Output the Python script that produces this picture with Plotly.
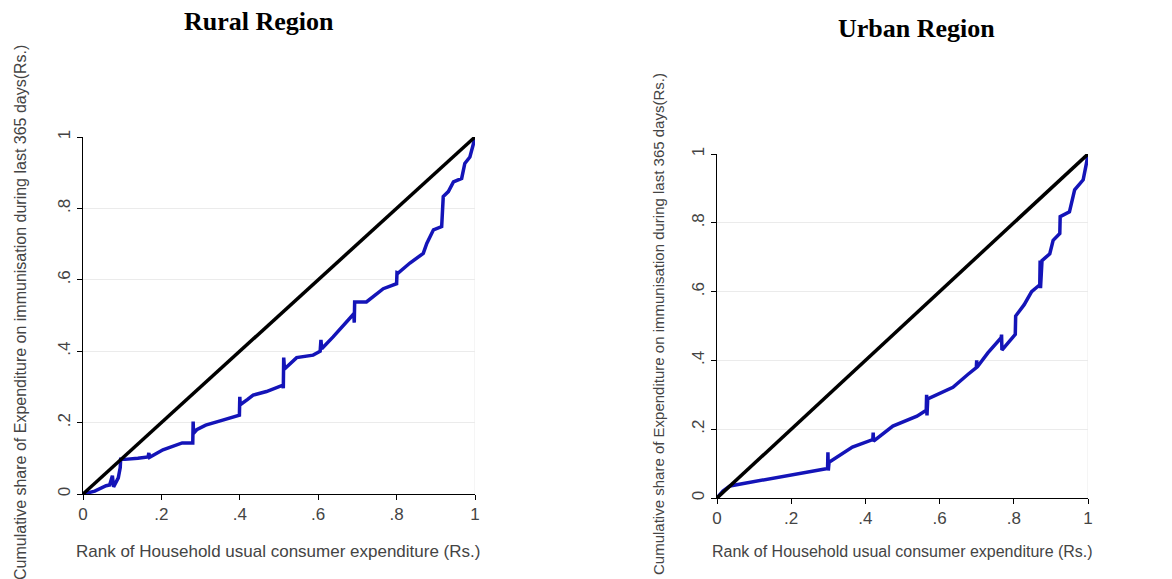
import plotly.graph_objects as go

# ---------------- data ----------------
equality_x = [0, 1]
equality_y = [0, 1]

rural_x = [0, 0.03, 0.059, 0.068, 0.075, 0.078, 0.090, 0.095, 0.096, 0.107, 0.14, 0.166, 0.168,
           0.170, 0.204, 0.218, 0.253, 0.280, 0.281, 0.282, 0.29, 0.313, 0.35, 0.383, 0.399, 0.400,
           0.401, 0.42, 0.434, 0.468, 0.510, 0.511, 0.512, 0.514, 0.545, 0.587, 0.605, 0.607, 0.609,
           0.638, 0.664, 0.691, 0.692, 0.693, 0.723, 0.766, 0.800, 0.801, 0.804, 0.834, 0.868, 0.877,
           0.894, 0.915, 0.919, 0.932, 0.945, 0.966, 0.974, 0.987, 0.996, 1]
rural_y = [0, 0.008, 0.023, 0.025, 0.051, 0.02, 0.045, 0.074, 0.097, 0.097, 0.10, 0.104, 0.115,
           0.103, 0.124, 0.129, 0.143, 0.143, 0.203, 0.17, 0.18, 0.193, 0.205, 0.217, 0.221, 0.272,
           0.25, 0.265, 0.277, 0.287, 0.305, 0.296, 0.382, 0.35, 0.382, 0.389, 0.40, 0.432, 0.407,
           0.44, 0.473, 0.505, 0.48, 0.538, 0.538, 0.575, 0.589, 0.62, 0.619, 0.647, 0.674, 0.702,
           0.74, 0.749, 0.833, 0.847, 0.874, 0.884, 0.926, 0.944, 0.981, 1]

urban_x = [0, 0.016, 0.035, 0.08, 0.114, 0.192, 0.26, 0.298, 0.299, 0.300, 0.302, 0.337, 0.365,
           0.420, 0.421, 0.422, 0.474, 0.539, 0.564, 0.565, 0.566, 0.568, 0.60, 0.636, 0.676, 0.699,
           0.700, 0.701, 0.730, 0.766, 0.767, 0.768, 0.804, 0.805, 0.828, 0.848, 0.870, 0.871, 0.872,
           0.876, 0.897, 0.906, 0.924, 0.925, 0.95, 0.964, 0.987, 0.996, 1]
urban_y = [0, 0.02, 0.035, 0.044, 0.049, 0.064, 0.078, 0.086, 0.133, 0.08, 0.104, 0.13, 0.148,
           0.17, 0.19, 0.165, 0.209, 0.238, 0.255, 0.30, 0.24, 0.288, 0.305, 0.322, 0.359, 0.379,
           0.40, 0.38, 0.422, 0.466, 0.475, 0.43, 0.476, 0.529, 0.562, 0.6, 0.62, 0.69, 0.61, 0.69,
           0.71, 0.749, 0.769, 0.818, 0.832, 0.896, 0.925, 0.974, 1]

tick_vals = [0, 0.2, 0.4, 0.6, 0.8, 1]
tick_text = ["0", ".2", ".4", ".6", ".8", "1"]

titles = ["Rural Region", "Urban Region"]
x_title = "Rank of Household usual consumer expenditure (Rs.)"
y_title = "Cumulative share of Expenditure on immunisation during last 365 days(Rs.)"

# ---------------- figure ----------------
fig = go.Figure()
blue = "#1414b8"

fig.add_trace(go.Scatter(x=rural_x, y=rural_y, mode="lines", line=dict(color=blue, width=3.5),
                         xaxis="x", yaxis="y", showlegend=False))
fig.add_trace(go.Scatter(x=equality_x, y=equality_y, mode="lines", line=dict(color="black", width=3.5),
                         xaxis="x", yaxis="y", showlegend=False))
fig.add_trace(go.Scatter(x=urban_x, y=urban_y, mode="lines", line=dict(color=blue, width=3.5),
                         xaxis="x2", yaxis="y2", showlegend=False))
fig.add_trace(go.Scatter(x=equality_x, y=equality_y, mode="lines", line=dict(color="black", width=3.5),
                         xaxis="x2", yaxis="y2", showlegend=False))

W, H = 1172, 579
left_dom_x = [83 / W, 475 / W]
left_dom_y = [(H - 494) / H, (H - 137) / H]
right_dom_x = [717 / W, 1088 / W]
right_dom_y = [(H - 498) / H, (H - 154) / H]

tickfont = dict(family="Arial, Liberation Sans, sans-serif", size=17, color="#444")

def xaxis(dom, anchor):
    return dict(domain=dom, anchor=anchor, range=[0, 1], tickvals=tick_vals, ticktext=tick_text,
                showline=True, linecolor="black", linewidth=1, ticks="outside", ticklen=5,
                tickcolor="black", showgrid=False, zeroline=False, tickfont=tickfont,
                automargin=False)

def yaxis(dom, anchor):
    return dict(domain=dom, anchor=anchor, range=[0, 1], tickvals=tick_vals, ticktext=tick_text,
                showline=True, linecolor="black", linewidth=1, ticks="outside", ticklen=5,
                tickcolor="black", showgrid=True, gridcolor="#ebebeb", gridwidth=1, zeroline=False,
                tickfont=tickfont, tickangle=-90, automargin=False)

fig.update_layout(
    width=W, height=H,
    margin=dict(l=0, r=0, t=0, b=0, pad=0, autoexpand=False),
    paper_bgcolor="white", plot_bgcolor="white",
    xaxis=xaxis(left_dom_x, "y"),
    yaxis=yaxis(left_dom_y, "x"),
    xaxis2=xaxis(right_dom_x, "y2"),
    yaxis2=yaxis(right_dom_y, "x2"),
)

# faint right border of each plot area
for xr, yr in [("x", "y"), ("x2", "y2")]:
    fig.add_shape(type="line", xref=xr, yref=yr, x0=1, x1=1, y0=0, y1=1,
                  line=dict(color="#ebebeb", width=1), layer="below")

annot_font = dict(family="Arial, Liberation Sans, sans-serif", size=17, color="#444")
title_font = dict(family="Liberation Serif, Times New Roman, serif", size=26, color="black")

annotations = [
    dict(text="<b>" + titles[0] + "</b>", x=259 / W, y=1 - 22 / H, xref="paper", yref="paper",
         showarrow=False, font=title_font, xanchor="center", yanchor="middle"),
    dict(text="<b>" + titles[1] + "</b>", x=916 / W, y=1 - 29 / H, xref="paper", yref="paper",
         showarrow=False, font=title_font, xanchor="center", yanchor="middle"),
    dict(text=x_title, x=278 / W, y=1 - 551 / H, xref="paper", yref="paper",
         showarrow=False, font=annot_font, xanchor="center", yanchor="middle"),
    dict(text=x_title, x=902 / W, y=1 - 551 / H, xref="paper", yref="paper",
         showarrow=False, font=dict(annot_font, size=16), xanchor="center", yanchor="middle"),
    dict(text=y_title, x=20 / W, y=1 - 313 / H, xref="paper", yref="paper", textangle=-90,
         showarrow=False, font=dict(annot_font, size=16), xanchor="center", yanchor="middle"),
    dict(text=y_title, x=658 / W, y=1 - 324 / H, xref="paper", yref="paper", textangle=-90,
         showarrow=False, font=dict(annot_font, size=15), xanchor="center", yanchor="middle"),
]
fig.update_layout(annotations=annotations)

fig.write_html("out.html", config={"displayModeBar": False},
               post_script="document.body.style.margin='0';")
